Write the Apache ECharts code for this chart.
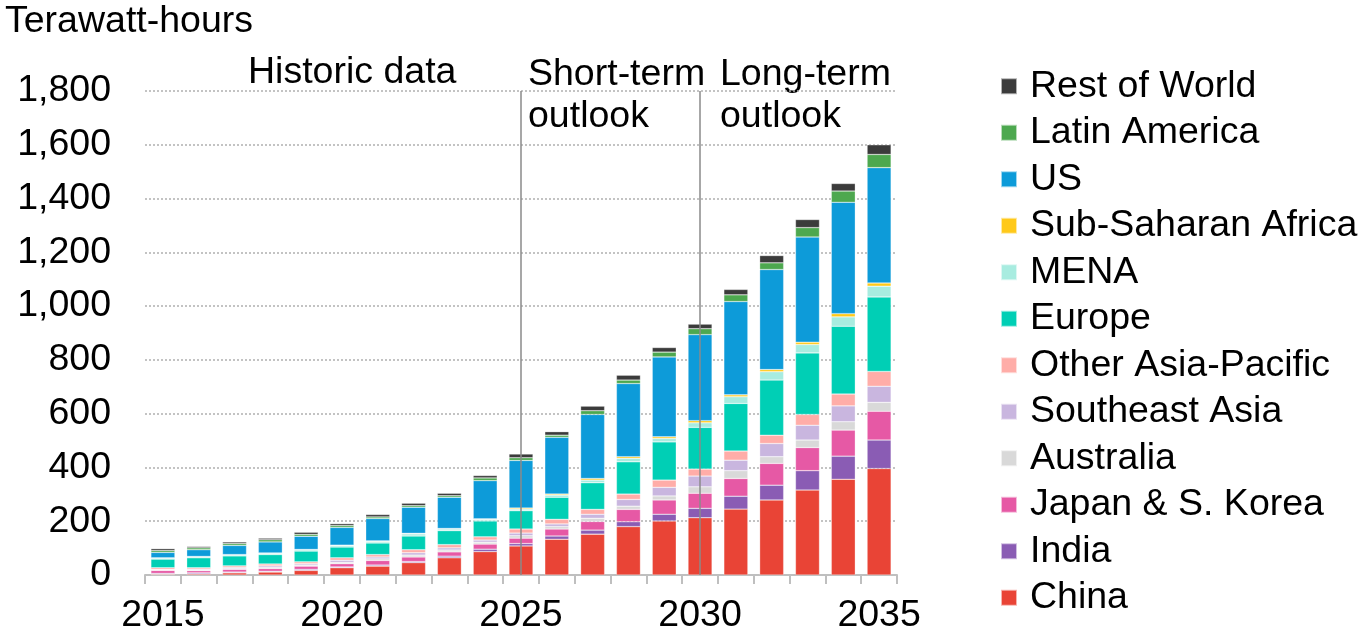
<!DOCTYPE html>
<html>
<head>
<meta charset="utf-8">
<script src="https://cdn.jsdelivr.net/npm/echarts@6/dist/echarts.min.js"></script>
<style>html,body{margin:0;padding:0;background:#fff}#c{width:1371px;height:638px}</style>
</head>
<body>
<div id="c"></div>
<script>
const years = ['2015','2016','2017','2018','2019','2020','2021','2022','2023','2024','2025','2026','2027','2028','2029','2030','2031','2032','2033','2034','2035'];
const yTicks = [0,200,400,600,800,1000,1200,1400,1600,1800];
const china     = [3,4,8,11,17,27,33,46,64,87,108,133,152,180,201,213,245,279,316,356,396];
const india     = [3,4,3,3,4,3,4,4,6,9,9,12,15,18,25,35,48,55,72,86,106];
const japanKorea= [11,8,10,10,12,12,17,17,16,19,20,26,32,46,53,56,66,81,86,97,107];
const australia = [2,3,3,4,4,5,6,7,7,7,9,9,12,12,15,24,29,25,28,31,33];
const seAsia    = [2,3,4,6,5,8,7,9,8,8,10,10,15,25,32,40,39,49,55,59,60];
const otherAP   = [6,5,6,7,7,9,9,11,12,12,15,17,18,20,27,26,34,31,40,44,55];
const europe    = [32,37,37,35,40,40,43,51,52,59,68,82,99,120,142,155,177,205,229,252,277];
const mena      = [4,4,4,5,5,6,6,8,6,6,6,8,10,13,13,17,25,31,31,35,40];
const ssAfrica  = [1,1,1,1,1,1,2,2,2,2,4,4,6,6,6,8,7,8,9,12,12];
const us        = [20,25,34,41,49,66,83,97,116,142,177,211,238,272,297,320,347,372,391,414,429];
const latAm     = [7,7,7,8,7,7,6,6,6,10,10,8,14,13,18,22,25,25,35,42,49];
const restWorld = [7,5,6,6,8,7,9,9,9,9,14,13,17,18,17,17,20,27,30,28,36];
const periodLines = ['2025','2030'];

const seriesDefs = [
  ['China', china, '#E94436'],
  ['India', india, '#8A5CB4'],
  ['Japan & S. Korea', japanKorea, '#E659A5'],
  ['Australia', australia, '#D9D9D9'],
  ['Southeast Asia', seAsia, '#C9B6DF'],
  ['Other Asia-Pacific', otherAP, '#FFADA8'],
  ['Europe', europe, '#00CFB5'],
  ['MENA', mena, '#A8ECE0'],
  ['Sub-Saharan Africa', ssAfrica, '#FFC91A'],
  ['US', us, '#0D9BD9'],
  ['Latin America', latAm, '#4DA84F'],
  ['Rest of World', restWorld, '#3B3B3B']
];
const FONT = 'Liberation Sans, Arial, sans-serif';
const FS = 37.5;
const series = seriesDefs.map(([name, data, color], i) => {
  const s = {
    name, type: 'bar', stack: 'total', data, barWidth: 24,
    itemStyle: { color, borderColor: 'rgba(255,255,255,0.6)', borderWidth: 0.5 },
    emphasis: { disabled: true }
  };
  if (i === 0) {
    s.markLine = {
      symbol: 'none', silent: true,
      label: { show: false },
      lineStyle: { color: '#8a8a8a', width: 1.5, type: 'solid' },
      data: periodLines.map(y => ({ xAxis: y }))
    };
  }
  return s;
});

const chart = echarts.init(document.getElementById('c'));
chart.setOption({
  animation: false,
  textStyle: { fontFamily: FONT },
  grid: { left: 145, right: 474, top: 91, bottom: 63 },
  xAxis: {
    type: 'category', data: years, boundaryGap: true,
    axisLine: { lineStyle: { color: '#BFBFBF', width: 2 } },
    axisTick: { show: true, length: 9, lineStyle: { color: '#BFBFBF', width: 2 }, interval: 0 },
    axisLabel: {
      color: '#000', fontSize: FS, fontFamily: FONT, margin: 22,
      interval: 0,
      formatter: v => ((+v - 2015) % 5 === 0 ? v : '')
    }
  },
  yAxis: {
    type: 'value', min: yTicks[0], max: yTicks[yTicks.length - 1], interval: 200,
    axisLine: { show: false }, axisTick: { show: false },
    axisLabel: {
      color: '#000', fontSize: FS, fontFamily: FONT, margin: 34,
      formatter: v => v.toLocaleString('en-US')
    },
    splitLine: { lineStyle: { color: '#B0B0B0', width: 1.5, type: [2, 2] } }
  },
  legend: {
    orient: 'vertical', left: 1000, top: 63, padding: 0,
    itemWidth: 16, itemHeight: 16, itemGap: 0, icon: 'rect',
    data: seriesDefs.map(d => d[0]).reverse(),
    textStyle: { color: '#000', fontSize: FS, fontFamily: FONT, lineHeight: 46.5, padding: [0, 0, 0, 8] },
    selectedMode: false
  },
  graphic: [
    { type: 'text', left: 5, top: 3, style: { text: 'Terawatt-hours', font: FS + 'px ' + FONT, fill: '#000' } },
    { type: 'text', left: 248, top: 54, style: { text: 'Historic data', font: FS + 'px ' + FONT, fill: '#000' } },
    { type: 'text', left: 528, top: 54, style: { text: 'Short-term\noutlook', font: FS + 'px ' + FONT, fill: '#000', lineHeight: 42 } },
    { type: 'text', left: 720, top: 54, style: { text: 'Long-term\noutlook', font: FS + 'px ' + FONT, fill: '#000', lineHeight: 42 } }
  ],
  series
});
</script>
</body>
</html>
